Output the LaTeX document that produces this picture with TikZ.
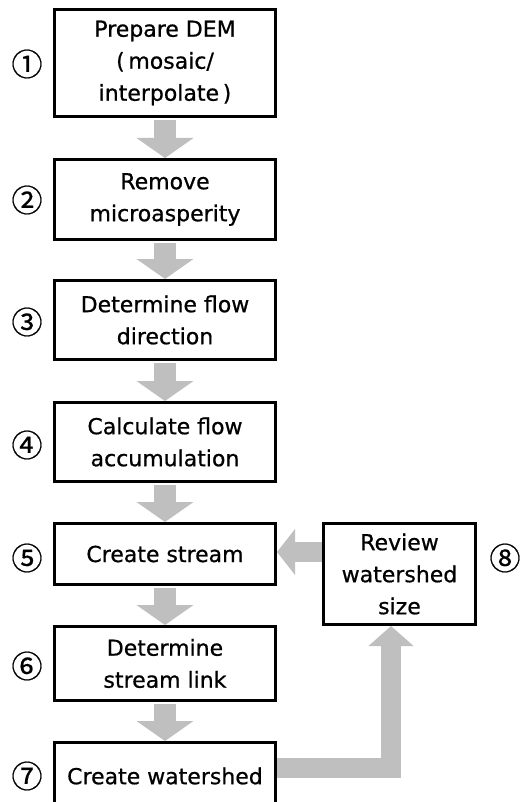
\documentclass[tikz,border=0pt]{standalone}
\usepackage{fontspec}
\setmainfont{DejaVu Sans}
\newfontfamily\boxfont{DejaVu Sans}[FakeBold=0.7]
\newfontfamily\cjk{Noto Sans CJK JP}[FakeBold=0.6]
\usetikzlibrary{arrows.meta,calc}
\definecolor{arrowgray}{HTML}{BFBFBF}
\begin{document}
\begin{tikzpicture}[x=1pt,y=-1pt,
  box/.style={draw, line width=3pt, align=center, inner sep=0pt,
    font=\boxfont\fontsize{22}{32}\selectfont},
  mainbox/.style={box, minimum width=221pt},
  num/.style={font=\cjk\fontsize{31}{31}\selectfont, inner sep=0pt},
  flow/.style={draw=arrowgray, line width=22pt, shorten <=2pt,
    -{Triangle[width=56pt,length=20pt]}},
  sideflow/.style={draw=arrowgray, line width=20pt, line join=miter,
    -{Triangle[width=44pt,length=20pt]}},
]
\clip (0,0) rectangle (528,802);
\fill[white] (0,0) rectangle (528,802);

\node[mainbox, minimum height=107pt] (b1) at (165,63) {Prepare DEM\\(\,mosaic/\\interpolate\,)};
\node[mainbox, minimum height=80pt] (b2) at (165,199.5) {Remove\\microasperity};
\node[mainbox, minimum height=79pt] (b3) at (165,320) {Determine flow\\direction};
\node[mainbox, minimum height=79pt] (b4) at (165,442) {Calculate flow\\accumulation};
\node[mainbox, minimum height=61pt] (b5) at (165,554) {Create stream};
\node[mainbox, minimum height=74pt] (b6) at (165,663.5) {Determine\\stream link};
\node[mainbox, minimum height=67pt] (b7) at (165,776) {Create watershed};
\node[box, minimum width=152pt, minimum height=101pt] (b8) at (399.5,574) {Review\\watershed\\size};

\node[num] (n1) at (27,64) {①};
\node[num] (n2) at (27,200) {②};
\node[num] (n3) at (27,322) {③};
\node[num] (n4) at (27,445) {④};
\node[num] (n5) at (27,558) {⑤};
\node[num] (n6) at (27,666) {⑥};
\node[num] (n7) at (27,776) {⑦};
\node[num] (n8) at (505,558) {⑧};

\draw[flow] (b1.south) -- (b2.north);
\draw[flow] (b2.south) -- (b3.north);
\draw[flow] (b3.south) -- (b4.north);
\draw[flow] (b4.south) -- (b5.north);
\draw[flow] (b5.south) -- (b6.north);
\draw[flow] (b6.south) -- (b7.north);

\coordinate (s7) at ($(b7.east)+(0,-8)$);
\coordinate (t8) at ($(b8.south)+(-8.5,0)$);
\draw[sideflow] (s7) -| (t8);

\coordinate (s8) at ($(b8.west)+(0,-22)$);
\draw[sideflow, -{Triangle[width=45pt,length=18pt]}] (s8) -- (s8 -| b5.east);
\end{tikzpicture}
\end{document}
